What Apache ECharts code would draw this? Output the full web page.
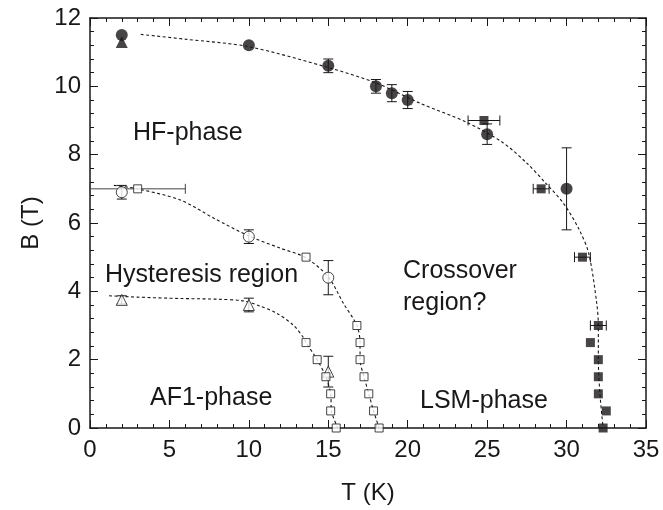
<!DOCTYPE html>
<html>
<head>
<meta charset="utf-8">
<script src="https://cdn.jsdelivr.net/npm/echarts@6/dist/echarts.min.js"></script>
<style>html,body{margin:0;padding:0;background:#fff;}#c{width:663px;height:510px;}</style>
</head>
<body>
<div id="c"></div>
<script>
// ---- data ----
const xTicks = [0, 5, 10, 15, 20, 25, 30, 35];
const yTicks = [0, 2, 4, 6, 8, 10, 12];

const hfCircles = [[2,11.5],[10,11.2],[15,10.6],[18,10.0],[19,9.8],[20,9.6],[25,8.6],[30,7.0]];
const hfCircleYErr = [0,0,0.2,0.2,0.25,0.25,0.3,1.2];
const hfTriangle = [[2,11.3]];
const hfSquares = [[24.8,9.0],[28.4,7.0],[31,5.0],[32,3.0],[31.5,2.5],[32,2.0],[32,1.5],[32,1.0],[32.5,0.5],[32.3,0]];
const hfSquareXErr = [1,0.5,0.5,0.5,0,0,0,0,0,0];

const hystCircles = [[2,6.9],[10,5.6],[15,4.4]];
const hystCircleYErr = [0.2,0.2,0.5];
const hystSquares = [[3,7.0],[13.6,5.0],[16.8,3.0],[17.0,2.5],[17.0,2.0],[17.25,1.5],[17.55,1.0],[17.85,0.5],[18.2,0]];
const hystSquareXErr = [3,0,0,0,0,0,0,0,0];

const af1Triangles = [[2,3.75],[10,3.6],[15,1.65]];
const af1TriYErr = [0.12,0.2,0.45];
const af1Squares = [[13.6,2.5],[14.3,2.0],[14.85,1.5],[15.15,1.0],[15.15,0.5],[15.5,0]];

const hfCurve = [[3.2,11.52],[6,11.38],[10,11.16],[15,10.55],[18,10.1],[20.8,9.5],[23.7,8.95],[26,8.35],[27.5,7.75],[28.7,7.16],[29.8,6.58],[30.8,5.8],[31.4,5.1],[31.9,3.65],[32,3.0],[32,2.0],[32.1,1.0],[32.3,0]];
const hystCurve = [[1.5,7.1],[3,7.0],[5.7,6.67],[7.8,6.14],[10,5.62],[12,5.26],[13.6,4.98],[15,4.42],[15.95,3.65],[16.8,3.0],[17.0,2.5],[17.0,2.0],[17.25,1.5],[17.55,1.0],[17.85,0.5],[18.2,0]];
const af1Curve = [[1.2,3.87],[3,3.83],[5.7,3.79],[8,3.77],[9.65,3.72],[10.7,3.57],[11.75,3.36],[12.8,3.01],[13.4,2.67],[13.6,2.5],[14.3,2.0],[14.85,1.5],[15.15,1.0],[15.2,0.5],[15.6,0]];

const labels = [
  {text:'HF-phase', x:133, y:135},
  {text:'Hysteresis region', x:105, y:277},
  {text:'AF1-phase', x:150, y:400},
  {text:'Crossover', x:403, y:273},
  {text:'region?', x:403, y:305},
  {text:'LSM-phase', x:420, y:403}
];

// ---- chart ----
const INK = '#1a1718';
const FONT = '"Liberation Sans", Arial, sans-serif';
const chart = echarts.init(document.getElementById('c'));

function errItems(pts, xe, ye){
  return pts.map((p,i)=>[p[0],p[1], xe ? xe[i] : 0, ye ? ye[i] : 0]);
}
function errSeries(data, color){
  return {
    type:'custom', data: data, z: 2, silent:true,
    renderItem: function(params, api){
      const x=api.value(0), y=api.value(1), ex=api.value(2), ey=api.value(3);
      const kids=[]; const cap=5;
      const st={stroke:color, lineWidth:1};
      if(ey>0){
        const a=api.coord([x,y+ey]), b=api.coord([x,y-ey]);
        kids.push({type:'line',shape:{x1:a[0],y1:a[1],x2:b[0],y2:b[1]},style:st});
        kids.push({type:'line',shape:{x1:a[0]-cap,y1:a[1],x2:a[0]+cap,y2:a[1]},style:st});
        kids.push({type:'line',shape:{x1:b[0]-cap,y1:b[1],x2:b[0]+cap,y2:b[1]},style:st});
      }
      if(ex>0){
        const a=api.coord([x-ex,y]), b=api.coord([x+ex,y]);
        kids.push({type:'line',shape:{x1:a[0],y1:a[1],x2:b[0],y2:b[1]},style:st});
        kids.push({type:'line',shape:{x1:a[0],y1:a[1]-cap,x2:a[0],y2:a[1]+cap},style:st});
        kids.push({type:'line',shape:{x1:b[0],y1:b[1]-cap,x2:b[0],y2:b[1]+cap},style:st});
      }
      return {type:'group', children:kids};
    }
  };
}
function curve(data){
  return {type:'line', data:data, smooth:0.3, symbol:'none', z:1, silent:true,
    lineStyle:{color:INK, width:1.1, type:[3,2.5]}};
}
function pts(data, symbol, size, filled){
  return {type:'scatter', data:data, symbol:symbol, symbolSize:size, z:3, silent:true,
    itemStyle: filled ? {color:INK, borderColor:INK, borderWidth:0}
                      : {color:'#fff', borderColor:INK, borderWidth:1}};
}

function axisBase(extra){
  return Object.assign({
    type:'value',
    axisLine:{show:true, onZero:false, lineStyle:{color:INK, width:1.5}},
    splitLine:{show:false},
    axisTick:{inside:true, length:8, lineStyle:{color:INK, width:1}},
    minorTick:{show:true, splitNumber:5, length:4, lineStyle:{color:INK, width:1}}
  }, extra);
}

chart.setOption({
  animation:false,
  backgroundColor:'#fff',
  grid:{left:90, right:17, top:18, bottom:82, containLabel:false},
  xAxis:[
    axisBase({min:xTicks[0], max:xTicks[xTicks.length-1], interval:5, position:'bottom',
      name:'T (K)', nameLocation:'middle', nameGap:53,
      nameTextStyle:{fontSize:24, color:INK, fontFamily:FONT},
      axisLabel:{fontSize:24, color:INK, fontFamily:FONT, margin:10}}),
    axisBase({min:xTicks[0], max:xTicks[xTicks.length-1], interval:5, position:'top',
      axisLabel:{show:false}})
  ],
  yAxis:[
    axisBase({min:yTicks[0], max:yTicks[yTicks.length-1], interval:2, position:'left',
      name:'B (T)', nameLocation:'middle', nameGap:46, nameRotate:90,
      nameTextStyle:{fontSize:24, color:INK, fontFamily:FONT},
      axisLabel:{fontSize:24, color:INK, fontFamily:FONT, margin:9}}),
    axisBase({min:yTicks[0], max:yTicks[yTicks.length-1], interval:2, position:'right',
      axisLabel:{show:false}})
  ],
  graphic: labels.map(l=>({type:'text', left:l.x, top:l.y-14, silent:true,
    style:{text:l.text, fill:INK, font:'25px '+FONT}})),
  series:[
    curve(hfCurve), curve(hystCurve), curve(af1Curve),
    errSeries(errItems(hfCircles,null,hfCircleYErr), INK),
    errSeries(errItems(hfSquares,hfSquareXErr,null), INK),
    errSeries(errItems(hystCircles,null,hystCircleYErr), INK),
    errSeries(errItems(hystSquares,hystSquareXErr,null), '#444'),
    errSeries(errItems(af1Triangles,null,af1TriYErr), INK),
    pts(hfTriangle,'triangle',12,true),
    pts(hfCircles,'circle',12,true),
    pts(hfSquares,'rect',9,true),
    pts(hystCircles,'circle',11,false),
    pts(hystSquares,'rect',8,false),
    pts(af1Triangles,'triangle',11,false),
    pts(af1Squares,'rect',8,false)
  ]
});
</script>
</body>
</html>
